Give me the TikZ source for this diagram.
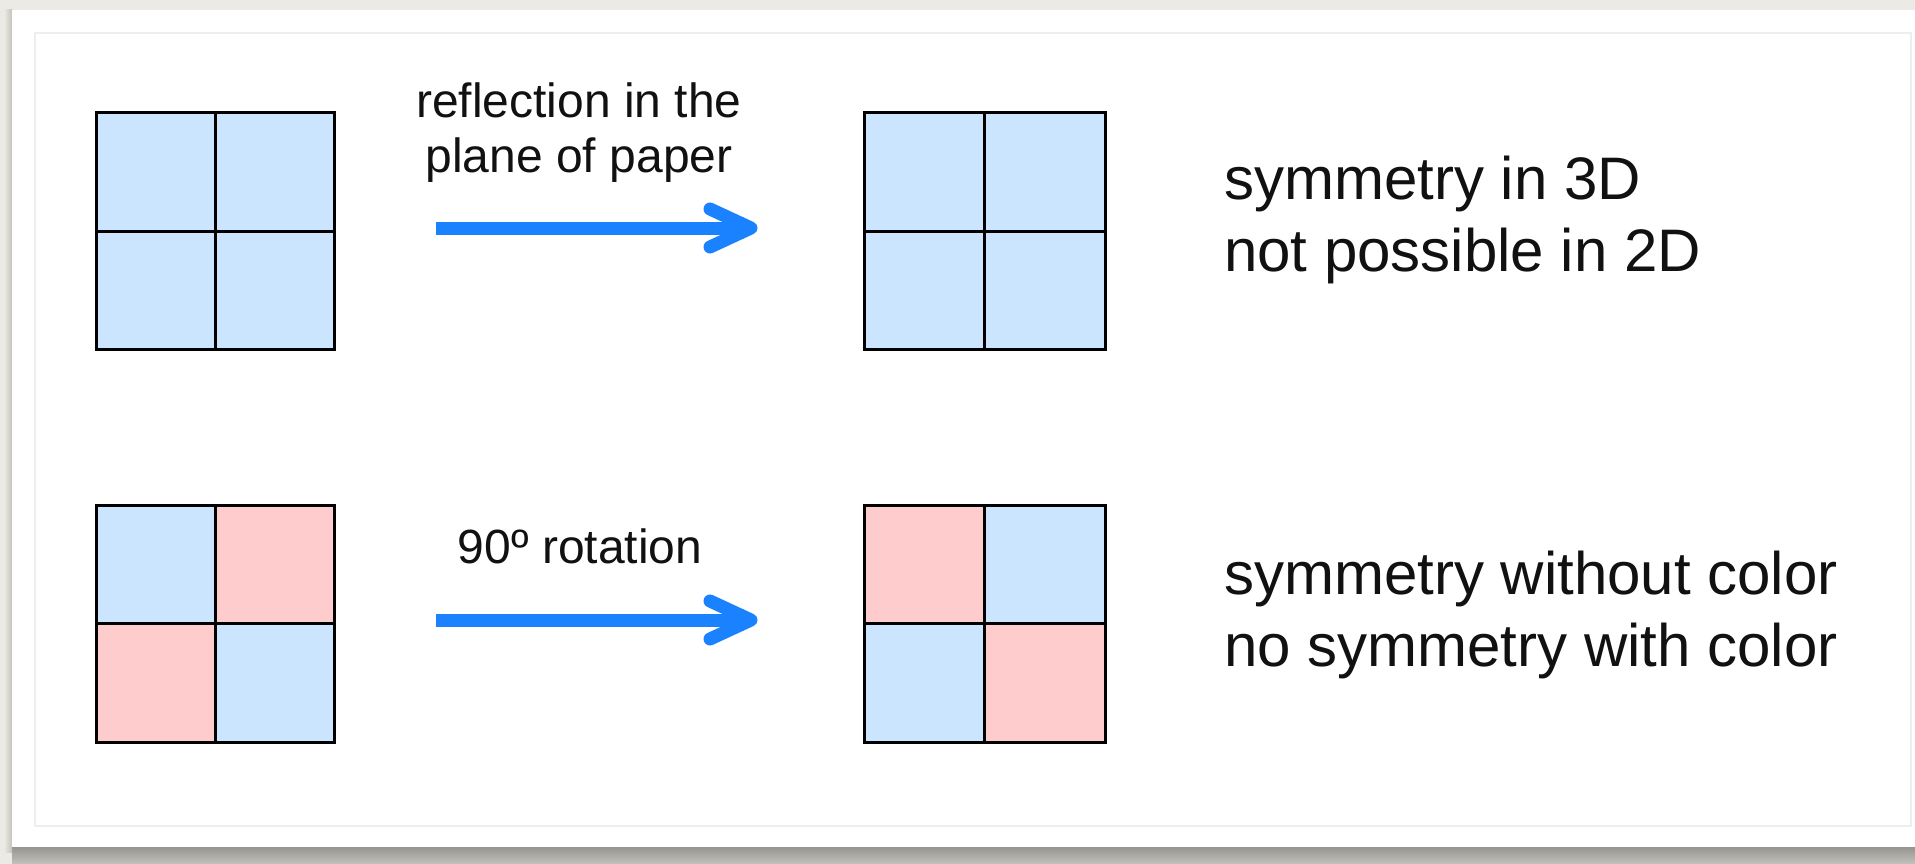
\documentclass[tikz,border=0pt]{standalone}
\usepackage{fontspec}
\setmainfont{Liberation Sans}
\definecolor{bgbeige}{RGB}{236,234,228}
\definecolor{shadowdark}{RGB}{150,148,142}
\definecolor{shadowlight}{RGB}{196,194,188}
\definecolor{innerline}{RGB}{238,238,238}
\definecolor{cellblue}{RGB}{204,229,255}
\definecolor{cellpink}{RGB}{255,204,206}
\definecolor{arrowblue}{RGB}{26,130,255}
\definecolor{textblack}{RGB}{17,17,17}
\newcommand{\drawgrid}[8]{%
  % #1 x0, #2 y0, #3 x1, #4 y1, #5 TL, #6 TR, #7 BL, #8 BR
  \pgfmathsetmacro{\gxm}{(#1+#3)/2}%
  \pgfmathsetmacro{\gym}{(#2+#4)/2}%
  \fill[#5] (#1,#2) rectangle (\gxm,\gym);
  \fill[#6] (\gxm,#2) rectangle (#3,\gym);
  \fill[#7] (#1,\gym) rectangle (\gxm,#4);
  \fill[#8] (\gxm,\gym) rectangle (#3,#4);
  \draw[gridline] (\gxm,#2) -- (\gxm,#4);
  \draw[gridline] (#1,\gym) -- (#3,\gym);
  \draw[gridline] (#1,#2) rectangle (#3,#4);
}
\begin{document}
\begin{tikzpicture}[x=1pt,y=-1pt,
  gridline/.style={draw=black,line width=3pt},
  shaft/.style={draw=arrowblue,line width=13pt,line cap=butt},
  chevron/.style={draw=arrowblue,line width=13pt,line cap=round,line join=round},
  lbl/.style={inner sep=0pt,anchor=base,text=textblack,font=\fontsize{48}{58}\selectfont},
  rtxt/.style={inner sep=0pt,anchor=base west,text=textblack,font=\fontsize{60}{72}\selectfont}]
\useasboundingbox (0,0) rectangle (1915,864);
% page background and card
\fill[bgbeige] (0,0) rectangle (1915,864);
\shade[top color=shadowdark,bottom color=shadowlight] (12,847) rectangle (1915,864);
\shade[left color=bgbeige,right color=shadowlight] (4,10) rectangle (12,852);
\fill[white] (12,10) rectangle (1915,847);
\draw[draw=innerline,line width=2pt] (35,33) rectangle (1911,826);

% grids
\drawgrid{96}{113}{334}{349}{cellblue}{cellblue}{cellblue}{cellblue}
\drawgrid{864}{113}{1105}{349}{cellblue}{cellblue}{cellblue}{cellblue}
\drawgrid{96}{505}{334}{742}{cellblue}{cellpink}{cellpink}{cellblue}
\drawgrid{864}{505}{1105}{742}{cellpink}{cellblue}{cellblue}{cellpink}
\node[inner sep=0pt,minimum width=238pt,minimum height=236pt] (g1) at (215,231) {};
\node[inner sep=0pt,minimum width=241pt,minimum height=236pt] (g2) at (984.5,231) {};
\node[inner sep=0pt,minimum width=238pt,minimum height=237pt] (g3) at (215,623.5) {};
\node[inner sep=0pt,minimum width=241pt,minimum height=237pt] (g4) at (984.5,623.5) {};

% arrows
\coordinate (a1s) at (436,228);
\coordinate (a1e) at (751,228);
\coordinate (a2s) at (436,620);
\coordinate (a2e) at (751,620);
\draw[shaft] (a1s) -- ([xshift=-4pt]a1e);
\draw[chevron] ([shift={(-41pt,19pt)}]a1e) -- (a1e) -- ([shift={(-41pt,-19pt)}]a1e);
\draw[shaft] (a2s) -- ([xshift=-4pt]a2e);
\draw[chevron] ([shift={(-41pt,19pt)}]a2e) -- (a2e) -- ([shift={(-41pt,-19pt)}]a2e);

% labels
\node[lbl] (l1a) at (579,118) {reflection in the};
\node[lbl] (l1b) at (579,172) {plane of paper};
\node[lbl] (l2) at (580,563) {90º rotation};

% right texts
\node[rtxt] (t1a) at (1224,200) {symmetry in 3D};
\node[rtxt] (t1b) at (1224,271) {not possible in 2D};
\node[rtxt] (t2a) at (1224,594) {symmetry without color};
\node[rtxt] (t2b) at (1224,666) {no symmetry with color};
\end{tikzpicture}
\end{document}
